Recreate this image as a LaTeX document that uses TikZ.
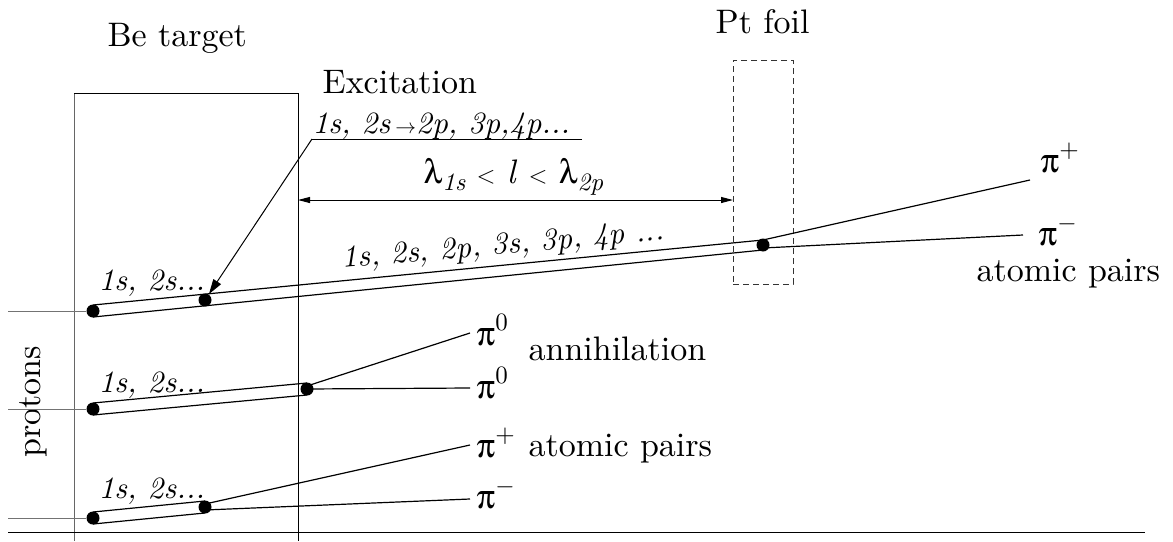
\documentclass[tikz,border=0pt]{standalone}
\usepackage{fontspec}
\setmainfont{lmroman10}[Extension=.otf,UprightFont=*-regular,ItalicFont=*-italic,BoldFont=*-bold,BoldItalicFont=*-bolditalic]
\usepackage[Symbol]{upgreek}
\usetikzlibrary{arrows.meta}
\newcommand\pilab[1]{$\uppi$\raisebox{0.42em}{\fontsize{25}{25}\selectfont #1}}
\newcommand\lamsub[1]{$\uplambda$\raisebox{-0.22em}{\fontsize{25}{25}\selectfont\itshape #1}}
\begin{document}
\begin{tikzpicture}[x=1pt,y=-1pt,line width=1.2pt,
  every node/.style={font=\fontsize{34}{40}\selectfont,inner sep=0pt},
  dot/.style={circle,fill,minimum size=13pt,inner sep=0pt},
  lbl/.style={anchor=base west},
  itlbl/.style={anchor=base west,font=\fontsize{31}{37}\selectfont\itshape},
  protonline/.style={black!55,line width=1pt},
  dimarrow/.style={{Triangle[length=12pt,width=6pt]}-{Triangle[length=12pt,width=6pt]},line width=1pt},
  excarrow/.style={-{Triangle[length=15pt,width=9pt]},line width=1pt},
  foilbox/.style={draw,black!80,line width=1pt,dash pattern=on 6pt off 4pt,minimum width=60pt,minimum height=224pt}]
\useasboundingbox (0,0) rectangle (1173,541);

% Be target box
\coordinate (boxBL) at (74,541);
\coordinate (boxTL) at (74,93);
\coordinate (boxTR) at (298,93);
\coordinate (boxBR) at (298,541);
\draw[black!60,line width=1pt] (boxBL) -- (boxTL);
\draw[line width=1pt] (boxTL) -- (boxTR) -- (boxBR);
\node[lbl] (betxt) at (107,46) {Be target};

% Pt foil
\node[foilbox] (foil) at (763,172) {};
\node[lbl] (pttxt) at (715,33) {Pt foil};

% bottom line
\coordinate (botL) at (8,532);
\coordinate (botR) at (1145,532);
\draw[line width=1pt] (botL) -- (botR);

% protons label
\node[rotate=90] (protons) at (33,402) {protons};

% dimension arrow
\coordinate (dimL) at (298,200);
\coordinate (dimR) at (733,200);
\draw[dimarrow] (dimL) -- (dimR);
\node[lbl] (lamtxt) at (423,183) {\lamsub{1s} $<$ \textit{l} $<$\ \lamsub{2p}};

% ---------- track 1 ----------
\node[dot] (a1) at (93,311) {};
\node[dot] (b1) at (205,300) {};
\node[dot] (c1) at (763,245) {};
\coordinate (pr1) at (8,311);
\coordinate (a1u) at (93,305);
\coordinate (a1d) at (93,317);
\coordinate (c1u) at (763,240);
\coordinate (c1d) at (763,250);
\coordinate (c1m) at (763,248);
\coordinate (p1e) at (1030,180);
\coordinate (m1e) at (1023,235);
\draw[protonline] (pr1) -- (a1);
\draw (a1u) -- (c1u);
\draw (a1d) -- (c1d);
\draw (c1u) -- (p1e);
\draw (c1m) -- (m1e);
\node[itlbl] (t1lab) at (98,290) {1s, 2s...};
\node[itlbl,rotate=5] (levels) at (342,268) {1s, 2s, 2p, 3s, 3p, 4p ...};
\node[lbl] (pp1) at (1040,172) {\pilab{+}};
\node[lbl] (pm1) at (1038,245) {\pilab{$-$}};
\node[lbl] (ap1) at (976,281) {atomic pairs};

% Excitation
\node[lbl] (exc) at (322,93) {Excitation};
\node[itlbl] (exctr) at (312,133) {1s, 2s\,{\upshape\fontsize{20}{20}\selectfont $\rightarrow$}2p, 3p,4p...};
\coordinate (ulL) at (312,139);
\coordinate (ulR) at (582,139);
\draw[line width=1pt] (ulR) -- (ulL);
\draw[excarrow] (ulL) -- (b1);

% ---------- track 2 ----------
\node[dot] (a2) at (93,409) {};
\node[dot] (c2) at (307,389) {};
\coordinate (pr2) at (8,409);
\coordinate (a2u) at (93,403);
\coordinate (a2d) at (93,415);
\coordinate (c2u) at (307,383);
\coordinate (c2d) at (307,395);
\coordinate (c2a) at (307,386);
\coordinate (c2b) at (307,389);
\coordinate (z1e) at (470,333);
\coordinate (z2e) at (470,388);
\draw[protonline] (pr2) -- (a2);
\draw (a2u) -- (c2u);
\draw (a2d) -- (c2d);
\draw (c2a) -- (z1e);
\draw (c2b) -- (z2e);
\node[itlbl] (t2lab) at (98,392) {1s, 2s...};
\node[lbl] (z1lab) at (476,345) {\pilab{0}};
\node[lbl] (z2lab) at (476,398) {\pilab{0}};
\node[lbl] (ann) at (528,360) {annihilation};

% ---------- track 3 ----------
\node[dot] (a3) at (93,518) {};
\node[dot] (b3) at (205,507) {};
\coordinate (pr3) at (8,518);
\coordinate (a3u) at (93,512);
\coordinate (a3d) at (93,524);
\coordinate (b3u) at (205,501);
\coordinate (b3d) at (205,513);
\coordinate (b3a) at (205,504);
\coordinate (b3b) at (205,510);
\coordinate (p3e) at (470,445);
\coordinate (m3e) at (470,499);
\draw[protonline] (pr3) -- (a3);
\draw (a3u) -- (b3u);
\draw (a3d) -- (b3d);
\draw (b3a) -- (p3e);
\draw (b3b) -- (m3e);
\node[itlbl] (t3lab) at (98,498) {1s, 2s...};
\node[lbl] (pp3) at (476,457) {\pilab{+}};
\node[lbl] (pm3) at (476,508) {\pilab{$-$}};
\node[lbl] (ap3) at (528,456) {atomic pairs};
\end{tikzpicture}
\end{document}
